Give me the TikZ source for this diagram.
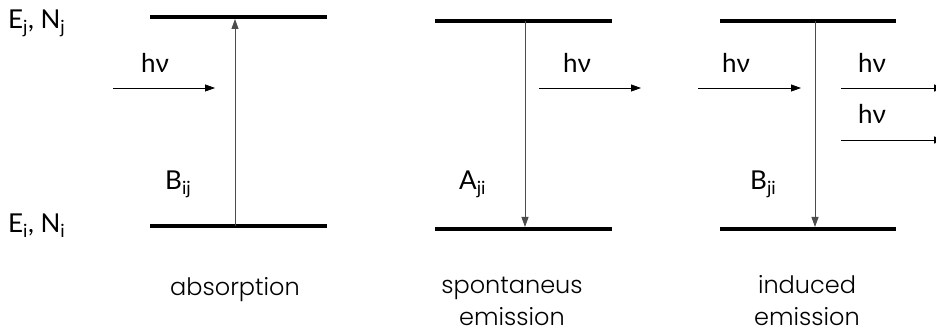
\documentclass[tikz,border=0pt]{standalone}
\usepackage{fontspec}
\setmainfont{Lato}
\newfontfamily\capfont{Poppins}[UprightFont=* Light]
\usetikzlibrary{arrows.meta}

\begin{document}
\begin{tikzpicture}[x=1pt,y=-1pt,>={Triangle[length=10pt,width=7pt]},
        level/.style={line width=4pt},
        trans/.style={->,gray!60!black,line width=0.9pt},
        photon/.style={->,line width=0.8pt},
        lbl/.style={anchor=base west,inner sep=0pt,font=\fontsize{26}{26}\selectfont},
        caption/.style={anchor=base,inner sep=0pt,align=center,font=\capfont\fontsize{24}{32}\selectfont}]
    \useasboundingbox (0,0) rectangle (936,336);

    % energy levels
    \coordinate (absUL) at (150,17);  \coordinate (absUR) at (327,17);
    \coordinate (absLL) at (150,226); \coordinate (absLR) at (327,226);
    \coordinate (spoUL) at (435,21);  \coordinate (spoUR) at (612,21);
    \coordinate (spoLL) at (435,229); \coordinate (spoLR) at (612,229);
    \coordinate (indUL) at (720,21);  \coordinate (indUR) at (896,21);
    \coordinate (indLL) at (720,229); \coordinate (indLR) at (896,229);
    \draw[level] (absUL) -- (absUR);
    \draw[level] (absLL) -- (absLR);
    \draw[level] (spoUL) -- (spoUR);
    \draw[level] (spoLL) -- (spoLR);
    \draw[level] (indUL) -- (indUR);
    \draw[level] (indLL) -- (indLR);

    % transitions
    \coordinate (absB) at (235,226); \coordinate (absT) at (235,19);
    \coordinate (spoT) at (525,21);  \coordinate (spoB) at (525,227);
    \coordinate (indT) at (815,21);  \coordinate (indB) at (815,227);
    \draw[trans] (absB) -- (absT);
    \draw[trans] (spoT) -- (spoB);
    \draw[trans] (indT) -- (indB);

    % photons
    \coordinate (absIn0) at (113,88);  \coordinate (absIn1) at (215,88);
    \coordinate (spoOut0) at (539,88); \coordinate (spoOut1) at (641,88);
    \coordinate (indIn0) at (698,88);  \coordinate (indIn1) at (801,88);
    \coordinate (indOutA0) at (841,88);  \coordinate (indOutA1) at (944,88);
    \coordinate (indOutB0) at (841,140); \coordinate (indOutB1) at (944,140);
    \draw[photon] (absIn0) -- (absIn1);
    \draw[photon] (spoOut0) -- (spoOut1);
    \draw[photon] (indIn0) -- (indIn1);
    \draw[photon] (indOutA0) -- (indOutA1);
    \draw[photon] (indOutB0) -- (indOutB1);

    \node (hvAbs) [lbl] at (141,73) {hν};
    \node (hvSpo) [lbl] at (563,73) {hν};
    \node (hvIndIn) [lbl] at (722,73) {hν};
    \node (hvIndA) [lbl] at (858,73) {hν};
    \node (hvIndB) [lbl] at (858,124) {hν};

    % level and coefficient labels
    \node (upper) [lbl] at (8,29) {E\textsubscript{j}, N\textsubscript{j}};
    \node (lower) [lbl] at (8,233) {E\textsubscript{i}, N\textsubscript{i}};
    \node (Bij) [lbl] at (165,190) {B\textsubscript{ij}};
    \node (Aji) [lbl] at (459,190) {A\textsubscript{ji}};
    \node (Bji) [lbl] at (750,190) {B\textsubscript{ji}};

    % captions
    \node (capAbs) [caption] at (235,296) {absorption};
    \node (capSpo) [caption] at (512,325) {spontaneus\\emission};
    \node (capInd) [caption] at (807,325) {induced\\emission};
\end{tikzpicture}
\end{document}
